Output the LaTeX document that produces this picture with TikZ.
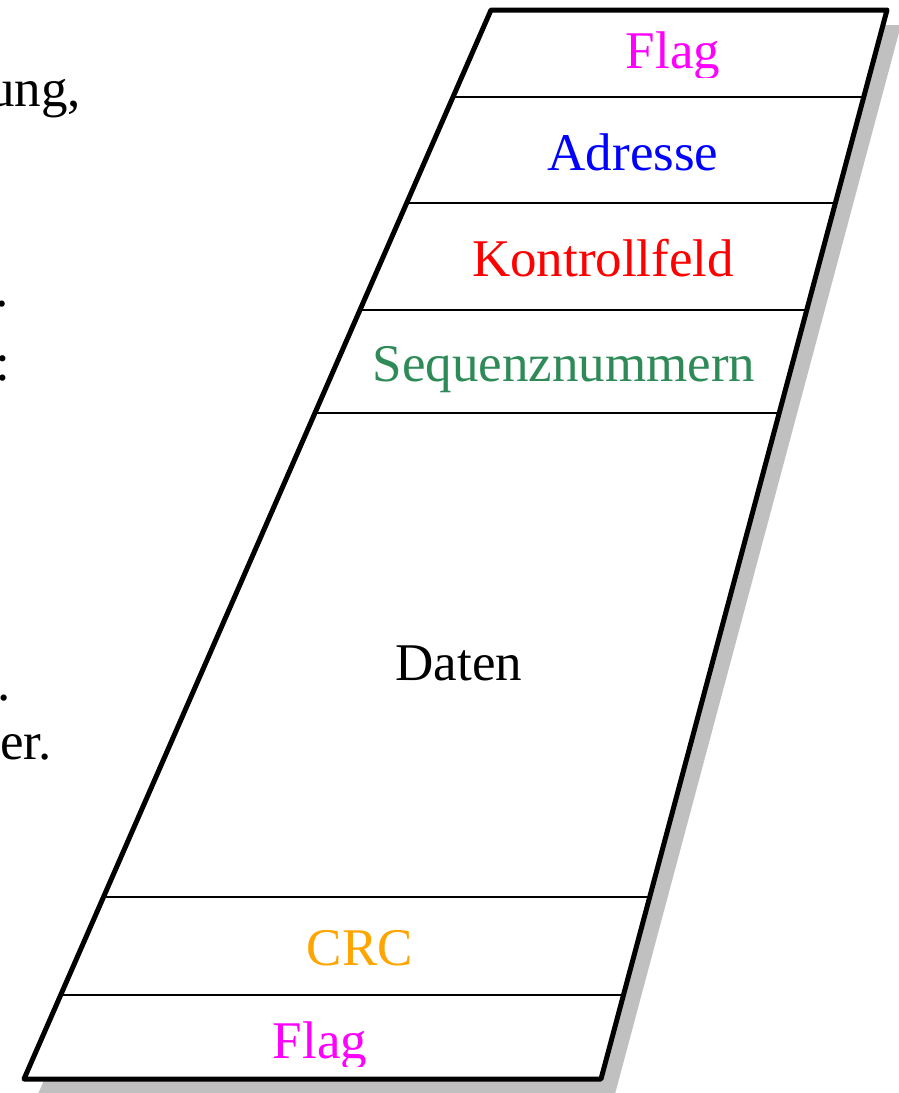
\documentclass[tikz,border=0pt]{standalone}
\usepackage{fontspec}
\setmainfont{Liberation Serif}
\usetikzlibrary{calc}
\definecolor{seqgreen}{RGB}{46,139,87}
\definecolor{crcorange}{RGB}{255,165,0}
\definecolor{flagmagenta}{RGB}{255,0,255}
\definecolor{adrblue}{RGB}{0,0,255}
\definecolor{kfred}{RGB}{255,0,0}
\definecolor{shadowgray}{RGB}{192,192,192}
\begin{document}
\begin{tikzpicture}[x=1pt,y=-1pt,
  lbl/.style={inner sep=0pt, anchor=base, font=\fontsize{53}{60}\selectfont},
  frag/.style={inner sep=0pt, anchor=base east, font=\fontsize{53}{60}\selectfont},
  sepline/.style={line width=2pt},
  frame/.style={line width=5pt, line join=round}]
\useasboundingbox (0,0) rectangle (899,1093);
% frame corners
\coordinate (TL) at (491,10);
\coordinate (TR) at (887,10);
\coordinate (BR) at (601,1079);
\coordinate (BL) at (24,1079);
% shadow
\fill[shadowgray] ($(TL)+(14,15)$) -- ($(TR)+(14,15)$) -- ($(BR)+(14,15)$) -- ($(BL)+(14,15)$) -- cycle;
% frame
\filldraw[fill=white, frame] (TL) -- (TR) -- (BR) -- (BL) -- cycle;
% separators
\coordinate (s1l) at (453.0,97);  \coordinate (s1r) at (863.7,97);
\coordinate (s2l) at (406.7,203); \coordinate (s2r) at (835.3,203);
\coordinate (s3l) at (360.0,310); \coordinate (s3r) at (806.7,310);
\coordinate (s4l) at (315.0,413); \coordinate (s4r) at (779.2,413);
\coordinate (s5l) at (103.5,897); \coordinate (s5r) at (649.7,897);
\coordinate (s6l) at (60.7,995);  \coordinate (s6r) at (623.5,995);
\foreach \i in {1,...,6} \draw[sepline] (s\i l) -- (s\i r);
% labels
\begin{scope}
  \clip (0,0) rectangle (899,77);
  \node[lbl, text=flagmagenta] (flagtop) at (673,68) {Flag};
\end{scope}
\node[lbl, text=adrblue] (adresse) at (633,170) {Adresse};
\node[lbl, text=kfred] (kontroll) at (603,276) {Kontrollfeld};
\node[lbl, text=seqgreen] (sequenz) at (564,381) {Sequenznummern};
\node[lbl] (daten) at (459,680) {Daten};
\node[lbl, text=crcorange] (crc) at (360,965) {CRC};
\begin{scope}
  \clip (0,0) rectangle (899,1066);
  \node[lbl, text=flagmagenta] (flagbot) at (320,1058) {Flag};
\end{scope}
% cut-off text fragments on the left
\node[frag] (f1) at (81,106) {ung,};
\node[frag] (f2) at (9,306) {.};
\node[frag] (f3) at (10,380) {:};
\node[frag] (f4) at (11,700) {.};
\node[frag] (f5) at (52,759) {er.};
\end{tikzpicture}
\end{document}
